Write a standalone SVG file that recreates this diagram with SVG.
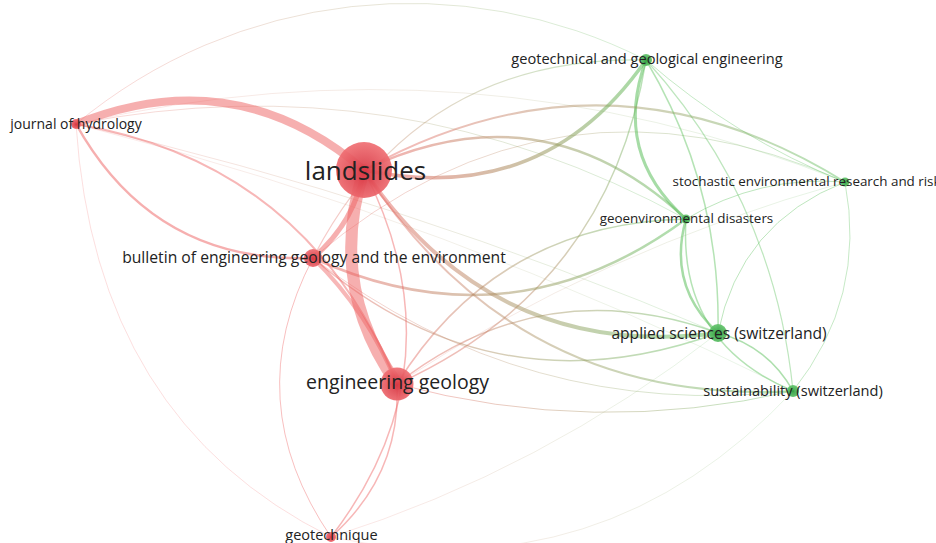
<svg xmlns="http://www.w3.org/2000/svg" width="936" height="543" viewBox="0 0 936 543">
<style>
.e{fill:none;stroke-linecap:round}
.r{stroke:#ee5f60}
.g{stroke:#5cc05c}
.lbl{font-family:"Open Sans","Liberation Sans",sans-serif;fill:#222;text-anchor:middle}
.nr{fill:url(#nr);fill-opacity:0.92}
.ng{fill:url(#ng);fill-opacity:0.92}
</style>
<defs>
<radialGradient id="nr" cx="50%" cy="55%" r="55%"><stop offset="0" stop-color="#d6323f"/><stop offset="1" stop-color="#f07074"/></radialGradient>
<radialGradient id="ng" cx="50%" cy="55%" r="55%"><stop offset="0" stop-color="#2f9f40"/><stop offset="1" stop-color="#63c46b"/></radialGradient>
<linearGradient id="gJGT" gradientUnits="userSpaceOnUse" x1="76" y1="124" x2="646" y2="60"><stop offset="0" stop-color="#ee6262"/><stop offset="1" stop-color="#5cc05c"/></linearGradient>
<linearGradient id="gLGT" gradientUnits="userSpaceOnUse" x1="364" y1="170" x2="646" y2="60"><stop offset="0" stop-color="#ee6262"/><stop offset="1" stop-color="#5cc05c"/></linearGradient>
<linearGradient id="gLGD" gradientUnits="userSpaceOnUse" x1="364" y1="170" x2="686" y2="219"><stop offset="0" stop-color="#ee6262"/><stop offset="1" stop-color="#5cc05c"/></linearGradient>
<linearGradient id="gLS" gradientUnits="userSpaceOnUse" x1="364" y1="170" x2="845" y2="182"><stop offset="0" stop-color="#ee6262"/><stop offset="1" stop-color="#5cc05c"/></linearGradient>
<linearGradient id="gLA" gradientUnits="userSpaceOnUse" x1="364" y1="170" x2="718" y2="333"><stop offset="0" stop-color="#ee6262"/><stop offset="1" stop-color="#5cc05c"/></linearGradient>
<linearGradient id="gLSU" gradientUnits="userSpaceOnUse" x1="364" y1="170" x2="793" y2="391"><stop offset="0" stop-color="#ee6262"/><stop offset="1" stop-color="#5cc05c"/></linearGradient>
<linearGradient id="gEGT" gradientUnits="userSpaceOnUse" x1="397" y1="384" x2="646" y2="60"><stop offset="0" stop-color="#ee6262"/><stop offset="1" stop-color="#5cc05c"/></linearGradient>
<linearGradient id="gBGT" gradientUnits="userSpaceOnUse" x1="313" y1="258" x2="646" y2="60"><stop offset="0" stop-color="#ee6262"/><stop offset="1" stop-color="#5cc05c"/></linearGradient>
<linearGradient id="gBGD" gradientUnits="userSpaceOnUse" x1="313" y1="258" x2="686" y2="219"><stop offset="0" stop-color="#ee6262"/><stop offset="1" stop-color="#5cc05c"/></linearGradient>
<linearGradient id="gBA" gradientUnits="userSpaceOnUse" x1="313" y1="258" x2="718" y2="333"><stop offset="0" stop-color="#ee6262"/><stop offset="1" stop-color="#5cc05c"/></linearGradient>
<linearGradient id="gEA" gradientUnits="userSpaceOnUse" x1="397" y1="384" x2="718" y2="333"><stop offset="0" stop-color="#ee6262"/><stop offset="1" stop-color="#5cc05c"/></linearGradient>
<linearGradient id="gEGD" gradientUnits="userSpaceOnUse" x1="397" y1="384" x2="686" y2="219"><stop offset="0" stop-color="#ee6262"/><stop offset="1" stop-color="#5cc05c"/></linearGradient>
<linearGradient id="gESU" gradientUnits="userSpaceOnUse" x1="397" y1="384" x2="793" y2="391"><stop offset="0" stop-color="#ee6262"/><stop offset="1" stop-color="#5cc05c"/></linearGradient>
<linearGradient id="gBS" gradientUnits="userSpaceOnUse" x1="313" y1="258" x2="845" y2="182"><stop offset="0" stop-color="#ee6262"/><stop offset="1" stop-color="#5cc05c"/></linearGradient>
<linearGradient id="gBSU" gradientUnits="userSpaceOnUse" x1="313" y1="258" x2="793" y2="391"><stop offset="0" stop-color="#ee6262"/><stop offset="1" stop-color="#5cc05c"/></linearGradient>
<linearGradient id="gJGD" gradientUnits="userSpaceOnUse" x1="76" y1="124" x2="686" y2="219"><stop offset="0" stop-color="#ee6262"/><stop offset="1" stop-color="#5cc05c"/></linearGradient>
<linearGradient id="gJA" gradientUnits="userSpaceOnUse" x1="76" y1="124" x2="718" y2="333"><stop offset="0" stop-color="#ee6262"/><stop offset="1" stop-color="#5cc05c"/></linearGradient>
<linearGradient id="gJSU" gradientUnits="userSpaceOnUse" x1="76" y1="124" x2="793" y2="391"><stop offset="0" stop-color="#ee6262"/><stop offset="1" stop-color="#5cc05c"/></linearGradient>
<linearGradient id="gJS" gradientUnits="userSpaceOnUse" x1="76" y1="124" x2="845" y2="182"><stop offset="0" stop-color="#ee6262"/><stop offset="1" stop-color="#5cc05c"/></linearGradient>
<linearGradient id="gQA" gradientUnits="userSpaceOnUse" x1="331" y1="537" x2="718" y2="333"><stop offset="0" stop-color="#ee6262"/><stop offset="1" stop-color="#5cc05c"/></linearGradient>
<linearGradient id="gQSU" gradientUnits="userSpaceOnUse" x1="331" y1="537" x2="793" y2="391"><stop offset="0" stop-color="#ee6262"/><stop offset="1" stop-color="#5cc05c"/></linearGradient>
<linearGradient id="gES" gradientUnits="userSpaceOnUse" x1="397" y1="384" x2="845" y2="182"><stop offset="0" stop-color="#ee6262"/><stop offset="1" stop-color="#5cc05c"/></linearGradient>
</defs>
<rect width="936" height="543" fill="#fff"/>
<g id="connectors">
<!-- faint edges -->
<path class="e r" d="M76,124 Q95,420 331,537" stroke-width="1" stroke-opacity="0.2"/>
<path class="e" d="M76,124 A521,521 0 0 1 646,60" stroke="url(#gJGT)" stroke-width="1" stroke-opacity="0.25"/>
<path class="e" d="M76,124 Q398,61 686,219" stroke="url(#gJGD)" stroke-width="1" stroke-opacity="0.25"/>
<path class="e" d="M76,124 Q406,200 718,333" stroke="url(#gJA)" stroke-width="1" stroke-opacity="0.2"/>
<path class="e" d="M76,124 Q450,220 793,391" stroke="url(#gJSU)" stroke-width="0.8" stroke-opacity="0.18"/>
<path class="e" d="M76,124 Q470,33 845,182" stroke="url(#gJS)" stroke-width="0.8" stroke-opacity="0.2"/>
<path class="e" d="M331,537 Q543,470 718,333" stroke="url(#gQA)" stroke-width="0.8" stroke-opacity="0.2"/>
<path class="e" d="M331,537 Q603,594 793,391" stroke="url(#gQSU)" stroke-width="0.8" stroke-opacity="0.2"/>
<path class="e" d="M397,384 Q600,250 845,182" stroke="url(#gES)" stroke-width="0.8" stroke-opacity="0.2"/>
<path class="e" d="M313,258 Q555,52 845,182" stroke="url(#gBS)" stroke-width="1" stroke-opacity="0.3"/>
<path class="e" d="M313,258 Q526,421 793,391" stroke="url(#gBSU)" stroke-width="1" stroke-opacity="0.3"/>
<!-- green cluster -->
<path class="e g" d="M646,60 Q735,138 845,182" stroke-width="1" stroke-opacity="0.35"/>
<path class="e g" d="M845,182 Q740,223 718,333" stroke-width="1" stroke-opacity="0.4"/>
<path class="e g" d="M845,182 Q867,298 793,391" stroke-width="1" stroke-opacity="0.35"/>
<path class="e g" d="M845,182 Q760,175 686,219" stroke-width="1" stroke-opacity="0.4"/>
<path class="e g" d="M646,60 Q774,201 793,391" stroke-width="1.2" stroke-opacity="0.4"/>
<path class="e g" d="M646,60 Q721,186 718,333" stroke-width="1.5" stroke-opacity="0.45"/>
<path class="e g" d="M686,219 Q678,343 793,391" stroke-width="1.5" stroke-opacity="0.45"/>
<path class="e g" d="M718,333 Q768,346 793,391" stroke-width="1.5" stroke-opacity="0.5"/>
<path class="e g" d="M686,219 Q667,286 718,333" stroke-width="2.5" stroke-opacity="0.55"/>
<path class="e g" d="M646,60 Q612,153 686,219" stroke-width="3" stroke-opacity="0.55"/>
<!-- mixed -->
<path class="e" d="M397,384 Q594,437 793,391" stroke="url(#gESU)" stroke-width="1" stroke-opacity="0.4"/>
<path class="e" d="M313,258 Q418,55 646,60" stroke="url(#gBGT)" stroke-width="1.2" stroke-opacity="0.35"/>
<path class="e" d="M397,384 Q609,288 646,60" stroke="url(#gEGT)" stroke-width="1.5" stroke-opacity="0.45"/>
<path class="e" d="M397,384 Q543,270 718,333" stroke="url(#gEA)" stroke-width="1.5" stroke-opacity="0.45"/>
<path class="e" d="M397,384 Q497,223 686,219" stroke="url(#gEGD)" stroke-width="1.5" stroke-opacity="0.45"/>
<path class="e" d="M313,258 Q494,414 718,333" stroke="url(#gBA)" stroke-width="1.5" stroke-opacity="0.45"/>
<path class="e" d="M364,170 Q608,35 845,182" stroke="url(#gLS)" stroke-width="2" stroke-opacity="0.45"/>
<path class="e" d="M364,170 Q516,406 793,391" stroke="url(#gLSU)" stroke-width="2" stroke-opacity="0.45"/>
<path class="e" d="M313,258 Q511,348 686,219" stroke="url(#gBGD)" stroke-width="2.5" stroke-opacity="0.5"/>
<path class="e" d="M364,170 Q542,85 686,219" stroke="url(#gLGD)" stroke-width="2.5" stroke-opacity="0.5"/>
<path class="e" d="M364,170 Q543,208 646,60" stroke="url(#gLGT)" stroke-width="3.5" stroke-opacity="0.55"/>
<path class="e" d="M364,170 Q493,362 718,333" stroke="url(#gLA)" stroke-width="4" stroke-opacity="0.5"/>
<!-- red cluster -->
<path class="e r" d="M313,258 Q238,401 331,537" stroke-width="1" stroke-opacity="0.4"/>
<path class="e r" d="M397,384 Q401,475 331,537" stroke-width="1.5" stroke-opacity="0.45"/>
<path class="e r" d="M364,170 Q463,365 331,537" stroke-width="1.5" stroke-opacity="0.45"/>
<path class="e r" d="M76,124 Q309,164 397,384" stroke-width="2" stroke-opacity="0.45"/>
<path class="e r" d="M76,124 Q154,264 313,258" stroke-width="2.5" stroke-opacity="0.5"/>
<path class="e r" d="M313,258 Q368,312 397,384" stroke-width="4" stroke-opacity="0.45"/>
<path class="e r" d="M364,170 Q355,222 313,258" stroke-width="5" stroke-opacity="0.5"/>
<path class="e r" d="M76,124 Q235,60 364,170" stroke-width="8" stroke-opacity="0.5"/>
<path class="e r" d="M364,170 Q327,285 397,384" stroke-width="12" stroke-opacity="0.5"/>
</g>
<g id="node-journal-of-hydrology"><circle class="nr" cx="76" cy="124" r="5"/><text class="lbl" x="76" y="129" font-size="14">journal of hydrology</text></g>
<g id="node-landslides"><circle class="nr" cx="364" cy="170" r="28"/><text class="lbl" x="365.5" y="179.5" font-size="26">landslides</text></g>
<g id="node-bulletin"><circle class="nr" cx="313" cy="258" r="9"/><text class="lbl" x="314" y="262.5" font-size="15.7">bulletin of engineering geology and the environment</text></g>
<g id="node-engineering-geology"><circle class="nr" cx="397" cy="384" r="16.5"/><text class="lbl" x="397.5" y="389" font-size="19.5">engineering geology</text></g>
<g id="node-geotechnique"><circle class="nr" cx="331" cy="537" r="5"/><text class="lbl" x="331.5" y="540" font-size="14.5">geotechnique</text></g>
<g id="node-geotechnical-and-geological-engineering"><circle class="ng" cx="646" cy="60" r="6"/><text class="lbl" x="647" y="64" font-size="14.6">geotechnical and geological engineering</text></g>
<g id="node-stochastic"><circle class="ng" cx="845" cy="182" r="4.5"/><text class="lbl" x="845" y="186" font-size="13.4">stochastic environmental research and risk assessment</text></g>
<g id="node-geoenvironmental-disasters"><circle class="ng" cx="686" cy="219" r="4.5"/><text class="lbl" x="686.5" y="223" font-size="13.4">geoenvironmental disasters</text></g>
<g id="node-applied-sciences"><circle class="ng" cx="718" cy="333" r="9"/><text class="lbl" x="719" y="338.5" font-size="15.6">applied sciences (switzerland)</text></g>
<g id="node-sustainability"><circle class="ng" cx="793" cy="391" r="6"/><text class="lbl" x="793" y="396" font-size="14.6">sustainability (switzerland)</text></g>
</svg>
